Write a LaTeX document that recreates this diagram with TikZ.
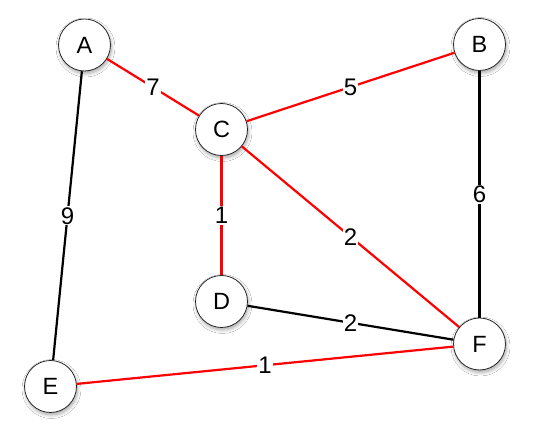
\documentclass[tikz,border=0pt]{standalone}
\usepackage{fontspec}
\setmainfont{Liberation Sans}
\usetikzlibrary{shadows.blur}
\begin{document}
\begin{tikzpicture}[x=1pt,y=1pt,
  vtx/.style={circle, draw=black!85, line width=0.8pt, fill=white, minimum size=52pt, inner sep=0pt,
    font=\fontsize{23.5}{26}\selectfont,
    blur shadow={shadow blur steps=6, shadow xshift=1pt, shadow yshift=-2.5pt, shadow opacity=35, shadow blur radius=3.5pt}},
  redge/.style={draw=red, line width=2.2pt},
  bedge/.style={draw=black, line width=2.2pt},
  wlab/.style={fill=white, inner sep=1pt, font=\fontsize{24}{26}\selectfont}]
\useasboundingbox[fill=white] (0,0) rectangle (536,441);
\node[vtx] (A) at (84.5,396) {A};
\node[vtx] (B) at (479.5,396.5) {B};
\node[vtx] (C) at (221.5,311.5) {C};
\node[vtx] (D) at (221.5,139.5) {D};
\node[vtx] (E) at (50.5,54.5) {E};
\node[vtx] (F) at (479.5,97) {F};
\path[bedge] (A) -- node[wlab] (l9) {9} (E);
\path[bedge] (B) -- node[wlab] (l6) {6} (F);
\path[bedge] (D) -- node[wlab] (l2b) {2} (F);
\path[redge] (A) -- node[wlab] (l7) {7} (C);
\path[redge] (C) -- node[wlab] (l5) {5} (B);
\path[redge] (C) -- node[wlab] (l1a) {1} (D);
\path[redge] (C) -- node[wlab] (l2a) {2} (F);
\path[redge] (E) -- node[wlab] (l1b) {1} (F);
\end{tikzpicture}
\end{document}
